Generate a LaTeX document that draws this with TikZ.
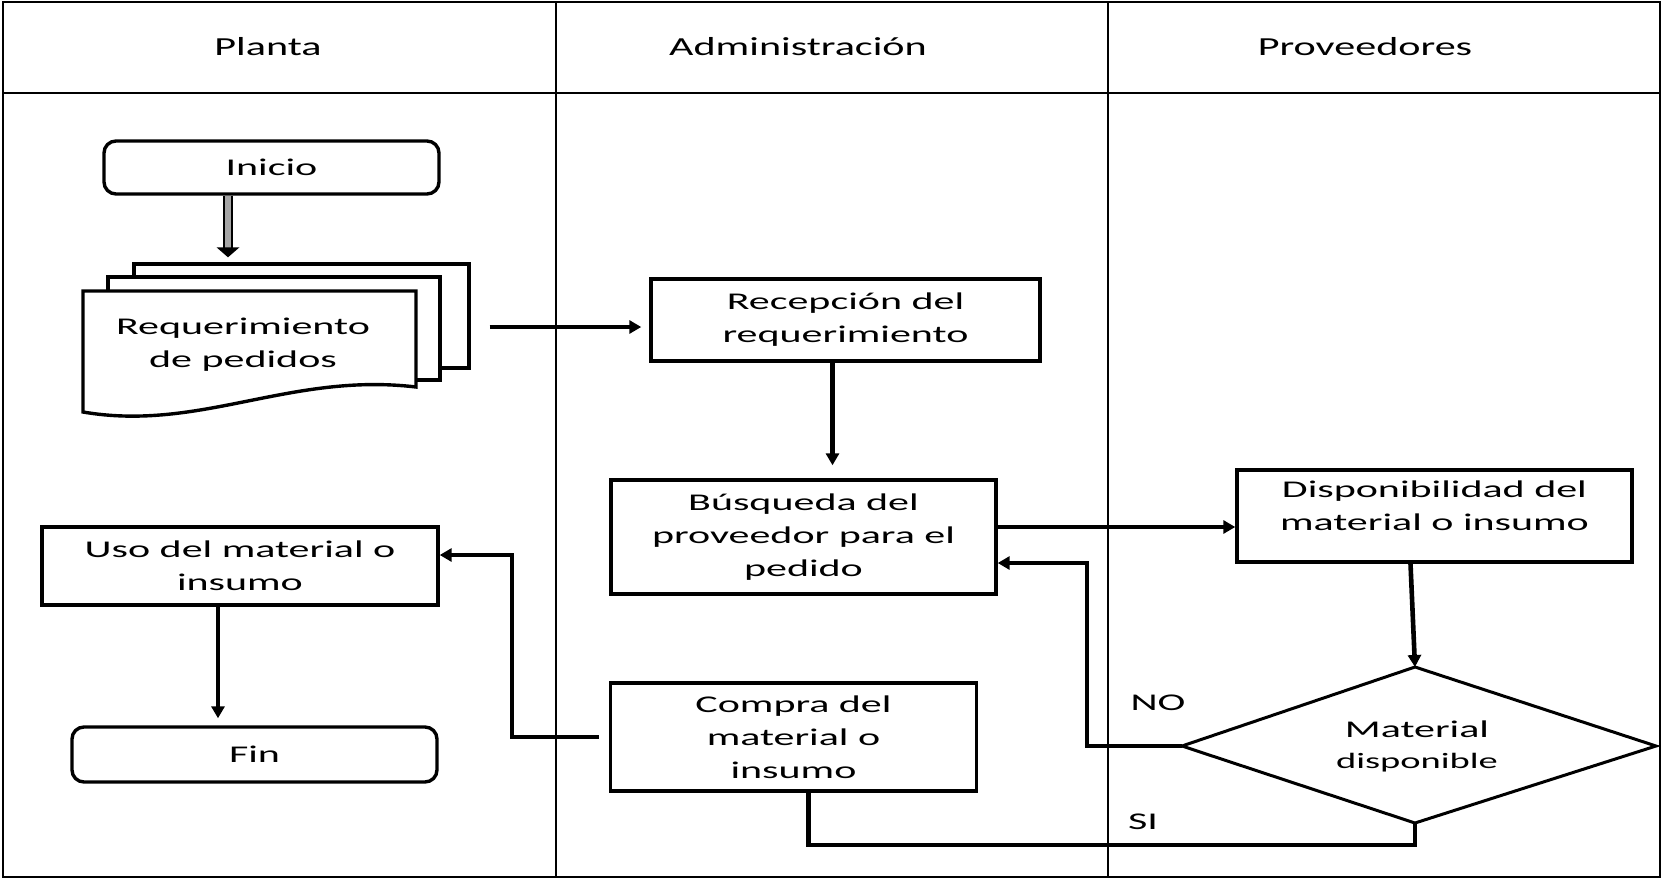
\documentclass[tikz,border=0pt]{standalone}
\usepackage{fontspec}
\setmainfont{Carlito}[FakeStretch=1.75]
\newfontfamily\hdfont{Carlito}[FakeStretch=1.62]
\usetikzlibrary{arrows.meta,calc}
\begin{document}
\begin{tikzpicture}[x=0.5pt,y=-0.5pt,
  box/.style={draw,line width=1.7pt,fill=white,inner sep=0pt,align=center,font=\fontsize{12}{16.5}\selectfont},
  term/.style={box,rounded corners=6pt},
  arr/.style={line width=2.3pt,-{Triangle[length=6pt,width=6.5pt]}},
  lane/.style={line width=0.9pt},
  hd/.style={inner sep=0pt,font=\hdfont\fontsize{13}{16}\selectfont},
  lbl/.style={inner sep=0pt,align=center,font=\fontsize{12}{16.5}\selectfont}
]
\useasboundingbox (0,0) rectangle (1662,879);
% frame and lanes
\draw[lane] (3,2) rectangle (1660,877);
\draw[lane] (3,93) -- (1660,93);
\draw[lane] (556,2) -- (556,877);
\draw[lane] (1108,2) -- (1108,877);
\node[hd] (hplanta) at (268,47) {Planta};
\node[hd] (hadmin) at (798,47) {Administración};
\node[hd] (hprov) at (1365,47) {Proveedores};

% Planta
\node[term, minimum width=167.5pt, minimum height=26.5pt] (ini) at (271.5,167.5) {Inicio};
\node[box, minimum width=167.5pt, minimum height=52pt] (docback) at (301.5,316) {};
\node[box, minimum width=166pt, minimum height=51.5pt] (docmid) at (274,328.5) {};
\filldraw[fill=white, line width=1.7pt] (83,291) -- (416,291) -- (416,387)
  .. controls (290,372) and (200,432) .. (83,412) -- cycle;
\node[lbl] (doc) at (243,345) {Requerimiento\\de pedidos};
\node[box, minimum width=198pt, minimum height=39pt] (uso) at (240,566) {Uso del material o\\insumo};
\node[term, minimum width=182.5pt, minimum height=27.5pt] (fin) at (254.5,754.5) {Fin};

% Administracion
\node[box, minimum width=194.5pt, minimum height=41pt] (rec) at (845.5,320) {Recepción del\\requerimiento};
\node[box, minimum width=192.5pt, minimum height=57pt] (bus) at (803.5,537) {Búsqueda del\\proveedor para el\\pedido};
\node[box, minimum width=183pt, minimum height=54pt] (com) at (793.5,737) {Compra del\\material o\\insumo};

% Proveedores
\node[box, minimum width=197.5pt, minimum height=46pt] (disp) at (1434.5,516) {Disponibilidad del\\material o insumo\\[-6pt]\mbox{}};
\coordinate (dt) at (1415,667);
\coordinate (dr) at (1656,746);
\coordinate (db) at (1415,823);
\coordinate (dl) at (1182,746);
\draw[line width=1.5pt, fill=white] (dt) -- (dr) -- (db) -- (dl) -- cycle;
\node[lbl] (dtx) at (1417,746) {Material\\[-1pt]{\fontsize{11}{15}\selectfont disponible}};
\node[lbl] (no) at (1158,703) {NO};
\node[lbl] (si) at (1143,822) {SI};

% connectors
\draw[line width=1.1pt, double=gray!70, double distance=3pt] ($(ini.south)+(-43.5,0)$) -- ($(docback.north)+(-73.5,-14)$);
\fill ($(docback.north)+(-85,-15)$) -- ($(docback.north)+(-62,-15)$) -- ($(docback.north)+(-73.5,-5)$) -- cycle;
\draw[arr] ($(docback.east)+(19,11)$) -- ($(rec.west)+(-8,7)$);
\draw[arr] ($(rec.south)+(-13,0)$) -- ($(bus.north)+(29,-13)$);
\draw[arr] ($(bus.east)+(0,-10)$) -- ($(disp.west)+(0,11)$);
\draw[arr] ($(disp.south)+(-24,0)$) -- (dt);
\draw[arr] (dl) -- ++(-95,0) |- ($(bus.east)+(0,26)$);
\draw[line width=2.3pt] (db) -- ++(0,22) -| ($(com.south)+(15,0)$);
\draw[arr] ($(com.west)+(-10,0)$) -- ++(-87,0) |- ($(uso.east)+(0,-11)$);
\draw[arr] ($(uso.south)+(-22,0)$) -- ($(fin.north)+(-36.5,-7)$);
\end{tikzpicture}
\end{document}
